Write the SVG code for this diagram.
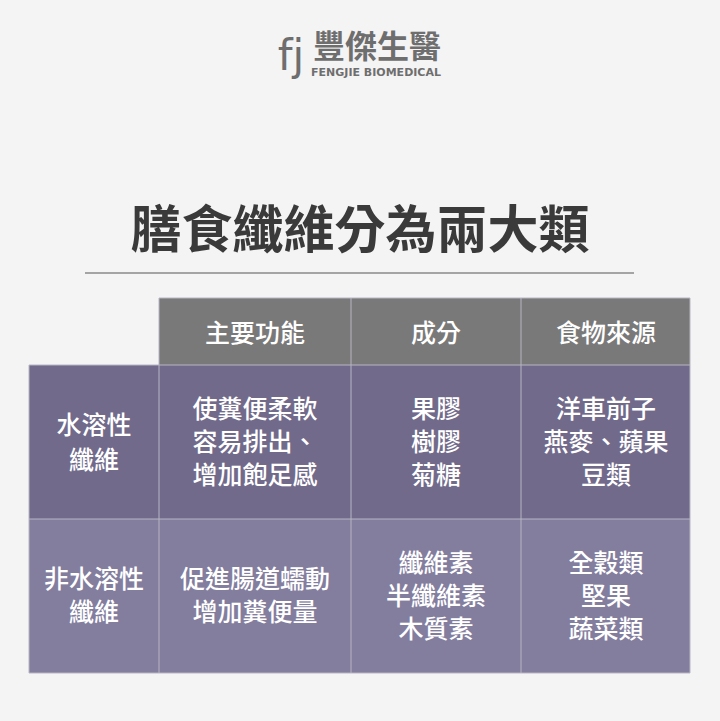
<svg xmlns="http://www.w3.org/2000/svg" width="720" height="721" viewBox="0 0 720 721">
<style>
.t{font-family:"Noto Sans CJK TC","Noto Sans CJK SC",sans-serif;fill:#fff;font-size:25px;font-weight:500;text-anchor:middle}
.g{stroke:#b8b5c4;stroke-width:1;fill:none}
</style>
<rect width="720" height="721" fill="#f4f4f4"/>
<g id="logo">
<text x="291" y="70" font-family="'DejaVu Sans',sans-serif" font-size="42" fill="#6e6e6e" text-anchor="middle">fj</text>
<text x="377" y="58" font-family="'Noto Sans CJK TC',sans-serif" font-size="32" font-weight="bold" fill="#6e6e6e" text-anchor="middle">豐傑生醫</text>
<text x="376" y="76" font-family="'DejaVu Sans',sans-serif" font-size="11" font-weight="bold" fill="#6e6e6e" text-anchor="middle">FENGJIE BIOMEDICAL</text>
</g>
<g id="title">
<text x="360" y="248" font-family="'Noto Sans CJK TC',sans-serif" font-size="51" font-weight="bold" fill="#3a3a3a" text-anchor="middle">膳食纖維分為兩大類</text>
<line x1="85" y1="273" x2="634" y2="273" stroke="#555" stroke-width="1.2"/>
</g>
<g id="cells">
<rect x="159" y="298" width="531" height="67" fill="#7a7979"/>
<rect x="29" y="365" width="661" height="154" fill="#716a8b"/>
<rect x="29" y="519" width="661" height="154" fill="#837d9e"/>
</g>
<g id="connectors">
<path class="g" d="M159 298V673M351 298V673M521 298V673M29 365H690M29 519H690M29 673H690M29 365V673M690 298V673M159 298H690"/>
</g>
<g id="text" class="t">
<text x="255" y="342">主要功能</text>
<text x="436" y="342">成分</text>
<text x="606" y="342">食物來源</text>
<text x="94" y="434">水溶性</text><text x="94" y="469">纖維</text>
<text x="255" y="418">使糞便柔軟</text><text x="255" y="451">容易排出、</text><text x="255" y="484">增加飽足感</text>
<text x="436" y="418">果膠</text><text x="436" y="451">樹膠</text><text x="436" y="484">菊糖</text>
<text x="606" y="418">洋車前子</text><text x="606" y="451">燕麥、蘋果</text><text x="606" y="484">豆類</text>
<text x="94" y="588">非水溶性</text><text x="94" y="621">纖維</text>
<text x="255" y="588">促進腸道蠕動</text><text x="255" y="621">增加糞便量</text>
<text x="436" y="572">纖維素</text><text x="436" y="605">半纖維素</text><text x="436" y="638">木質素</text>
<text x="606" y="572">全穀類</text><text x="606" y="605">堅果</text><text x="606" y="638">蔬菜類</text>
</g>
</svg>
